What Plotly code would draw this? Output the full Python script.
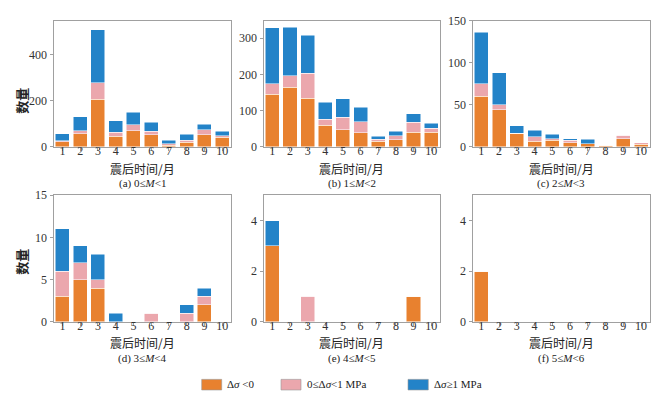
import plotly.graph_objects as go
from plotly.subplots import make_subplots

months = [1, 2, 3, 4, 5, 6, 7, 8, 9, 10]
month_labels = ["1", "2", "3", "4", "5", "6", "7", "8", "9", "10"]

# counts per panel: Δσ<0, 0≤Δσ<1 MPa, Δσ≥1 MPa
a_neg = [22, 58, 206, 46, 71, 53, 8, 21, 52, 42]
a_mid = [6, 13, 71, 18, 24, 15, 7, 8, 22, 7]
a_pos = [29, 60, 229, 49, 54, 39, 14, 27, 24, 19]

b_neg = [146, 165, 134, 60, 48, 39, 16, 20, 40, 40]
b_mid = [28, 32, 69, 16, 34, 30, 5, 11, 28, 12]
b_pos = [155, 133, 105, 48, 51, 41, 9, 13, 24, 14]

c_neg = [60, 44, 16, 7, 8, 5, 4, 2, 10, 3]
c_mid = [15, 6, 0, 5, 2, 3, 0, 0, 4, 2]
c_pos = [61, 38, 9, 8, 5, 2, 5, 0, 0, 0]

d_neg = [3, 5, 4, 0, 0, 0, 0, 0, 2, 0]
d_mid = [3, 2, 1, 0, 0, 1, 0, 1, 1, 0]
d_pos = [5, 2, 3, 1, 0, 0, 0, 1, 1, 0]

e_neg = [3, 0, 0, 0, 0, 0, 0, 0, 1, 0]
e_mid = [0, 0, 1, 0, 0, 0, 0, 0, 0, 0]
e_pos = [1, 0, 0, 0, 0, 0, 0, 0, 0, 0]

f_neg = [2, 0, 0, 0, 0, 0, 0, 0, 0, 0]
f_mid = [0, 0, 0, 0, 0, 0, 0, 0, 0, 0]
f_pos = [0, 0, 0, 0, 0, 0, 0, 0, 0, 0]

panels = [
    ("(a) 0≤<i>M</i><1", a_neg, a_mid, a_pos, [0, 546], [0, 200, 400]),
    ("(b) 1≤<i>M</i><2", b_neg, b_mid, b_pos, [0, 349], [0, 100, 200, 300]),
    ("(c) 2≤<i>M</i><3", c_neg, c_mid, c_pos, [0, 150], [0, 50, 100, 150]),
    ("(d) 3≤<i>M</i><4", d_neg, d_mid, d_pos, [0, 15], [0, 5, 10, 15]),
    ("(e) 4≤<i>M</i><5", e_neg, e_mid, e_pos, [0, 5], [0, 2, 4]),
    ("(f) 5≤<i>M</i><6", f_neg, f_mid, f_pos, [0, 5], [0, 2, 4]),
]

series_names = ["Δ<i>σ</i> <0", "0≤Δ<i>σ</i><1 MPa", "Δ<i>σ</i>≥1 MPa"]
colors = ["#E8812F", "#EBA7AD", "#2383C8"]

W, H = 665, 405
col_px = [(53.5, 231), (263.5, 440), (472.5, 650)]
row_px = [(14, 145), (195, 326)]

fig = make_subplots(rows=2, cols=3)

serif = "Liberation Serif, Times New Roman, serif"
cjk = "Noto Sans CJK SC"

annotations = []
for i, (title, neg, mid, pos, yr, yt) in enumerate(panels):
    r, c = divmod(i, 3)
    for vals, name, col in zip([neg, mid, pos], series_names, colors):
        fig.add_trace(
            go.Bar(x=months, y=vals, name=name, width=0.8,
                   marker=dict(color=col, line=dict(color="white", width=0.5)),
                   showlegend=False, hoverinfo="skip"),
            row=r + 1, col=c + 1)
    idx = "" if i == 0 else str(i + 1)
    x0, x1 = col_px[c]
    y0, y1 = row_px[r]
    fig.layout["xaxis" + idx].update(
        domain=[x0 / W, x1 / W], range=[0.5, 10.5],
        tickvals=months, ticktext=month_labels,
        showline=True, mirror=True, linecolor="#A0A0A0", linewidth=1,
        ticks="outside", ticklen=3, tickcolor="#A0A0A0",
        ticklabelstandoff=-10,
        showgrid=False, zeroline=False,
        tickfont=dict(family=serif, size=12, color="#333"))
    fig.layout["yaxis" + idx].update(
        domain=[1 - y1 / H, 1 - y0 / H], range=yr, tickvals=yt,
        showline=True, mirror=True, linecolor="#A0A0A0", linewidth=1,
        ticks="outside", ticklen=3, tickcolor="#A0A0A0",
        showgrid=False, zeroline=False,
        tickfont=dict(family=serif, size=12, color="#333"))
    xc = (x0 + x1) / 2 / W
    annotations.append(dict(
        x=xc, y=1 - (y1 + 22) / H, xref="paper", yref="paper",
        text="震后时间/月", showarrow=False,
        font=dict(family=cjk, size=12, color="#222"),
        xanchor="center", yanchor="middle"))
    annotations.append(dict(
        x=xc, y=1 - (y1 + 38) / H, xref="paper", yref="paper",
        text=title, showarrow=False,
        font=dict(family=serif, size=11, color="#222"),
        xanchor="center", yanchor="middle"))

for yc in [97, 264]:
    annotations.append(dict(
        x=22 / W, y=1 - yc / H, xref="paper", yref="paper",
        text="<b>数量</b>", showarrow=False, textangle=-90,
        font=dict(family=cjk, size=13, color="#222"),
        xanchor="center", yanchor="middle"))

# legend
shapes = []
legend_items = [(201.7, 221.7, 225), (281, 301, 305), (408, 428.3, 432)]
for (sx0, sx1, tx), name, col in zip(legend_items, series_names, colors):
    shapes.append(dict(type="rect", xref="paper", yref="paper",
                       x0=sx0 / W, x1=sx1 / W, y0=1 - 396.7 / H, y1=1 - 385.7 / H,
                       fillcolor=col, line=dict(color="#999", width=0.6)))
    annotations.append(dict(
        x=tx / W, y=1 - 391 / H, xref="paper", yref="paper",
        text=name, showarrow=False,
        font=dict(family=serif, size=11, color="#222"),
        xanchor="left", yanchor="middle"))

fig.update_layout(
    barmode="stack", bargap=0.2,
    width=W, height=H,
    margin=dict(l=0, r=0, t=0, b=0),
    plot_bgcolor="white", paper_bgcolor="white",
    annotations=annotations, shapes=shapes,
    showlegend=False, hovermode=False)

fig.write_html("out.html", config={"displayModeBar": False},
               post_script="document.body.style.margin='0';document.body.style.overflow='hidden';")
